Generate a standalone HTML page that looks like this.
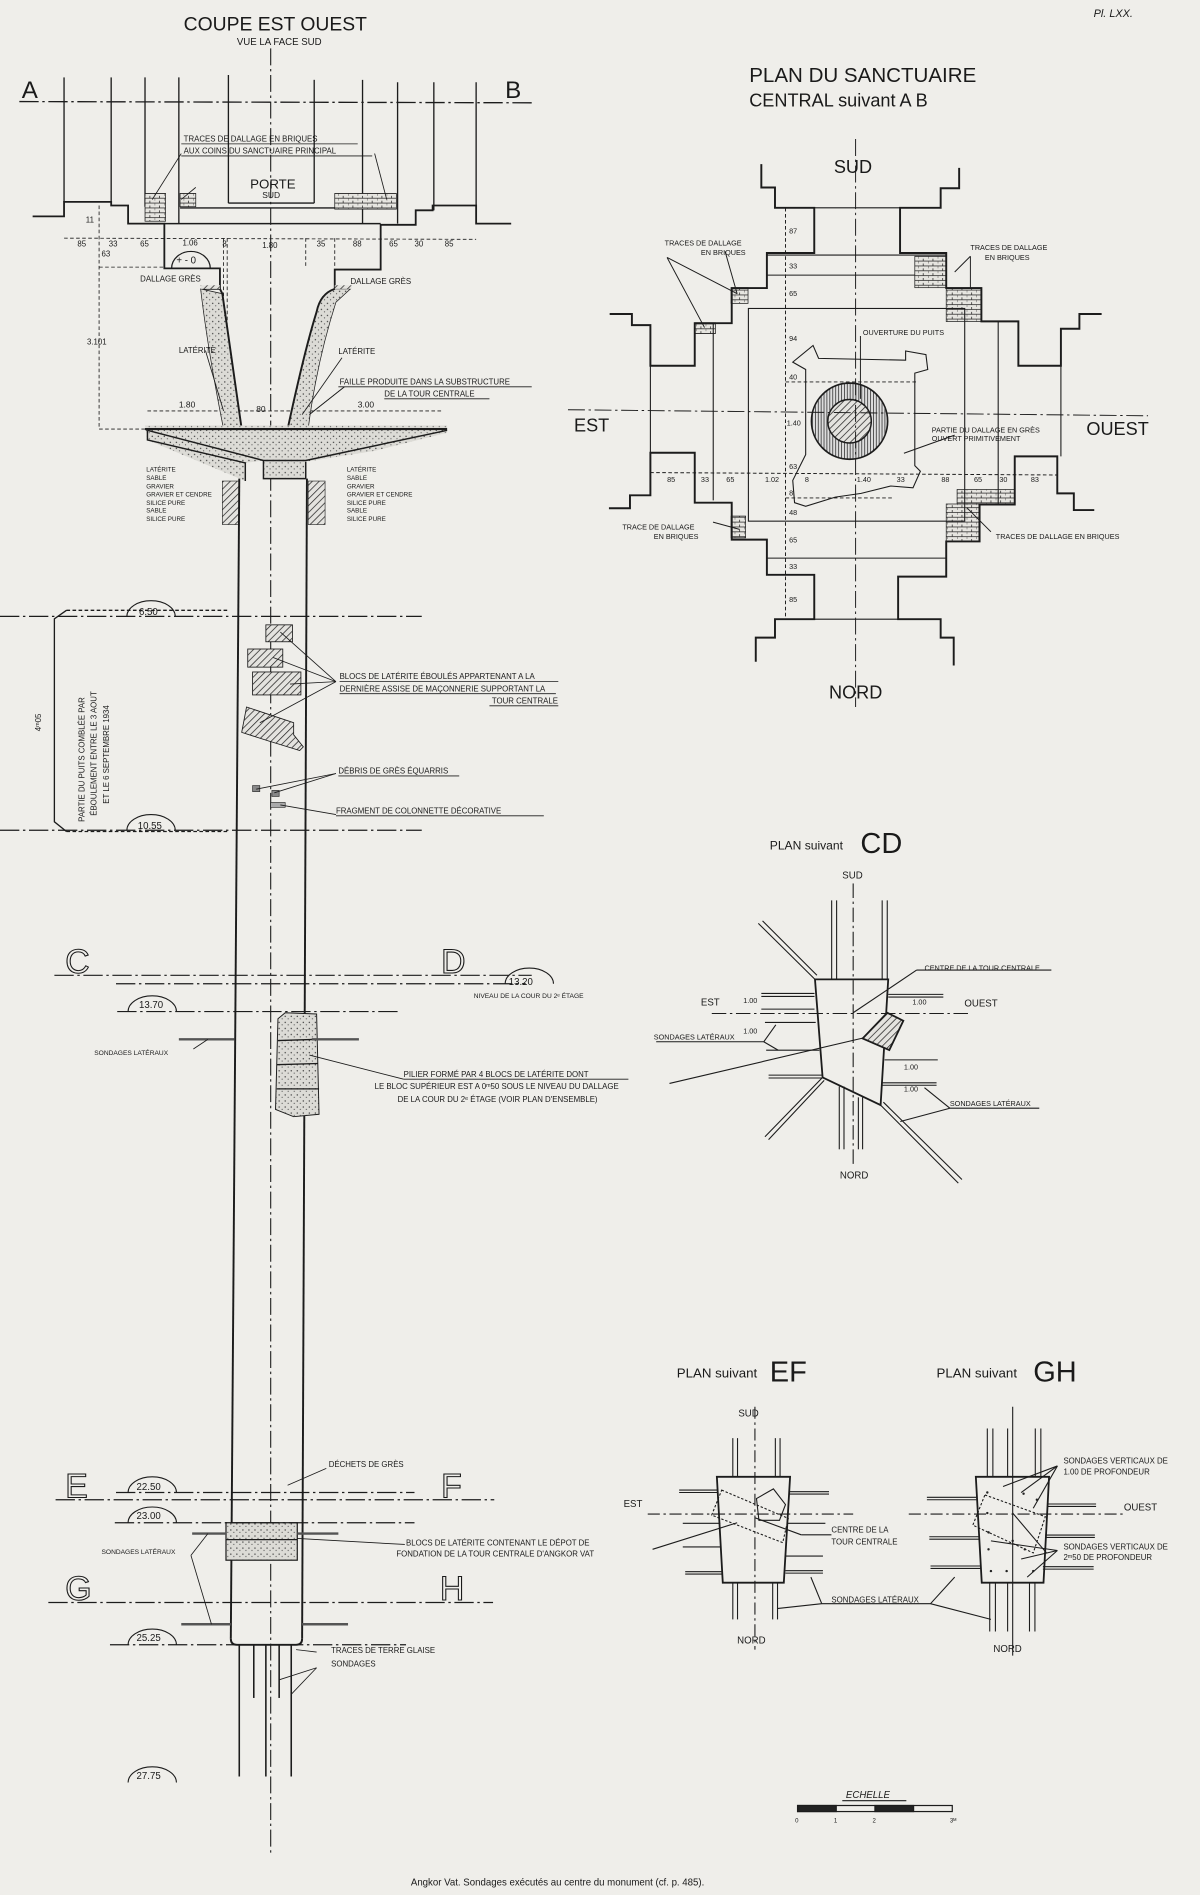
<!DOCTYPE html>
<html><head><meta charset="utf-8"><style>
html,body{margin:0;padding:0;background:#efeeea;}
svg{display:block}
text{font-family:"Liberation Sans",sans-serif;fill:#1a1a1a}
.o{fill:none;stroke:#1a1a1a;stroke-width:0.9}
</style></head><body>
<svg width="1200" height="1895" viewBox="0 0 993 1568" xmlns="http://www.w3.org/2000/svg">
<defs>
<pattern id="h" width="4" height="4" patternUnits="userSpaceOnUse" patternTransform="rotate(45)"><rect width="4" height="4" fill="#e4e3df"/><line x1="0" y1="0" x2="0" y2="4" stroke="#222" stroke-width="1.2"/></pattern>
<pattern id="v" width="2.4" height="4" patternUnits="userSpaceOnUse"><rect width="2.4" height="4" fill="#ddd"/><line x1="0" y1="0" x2="0" y2="4" stroke="#111" stroke-width="1.1"/></pattern>
<pattern id="s" width="5" height="5" patternUnits="userSpaceOnUse"><rect width="5" height="5" fill="#dcdbd6"/><circle cx="1" cy="1" r="0.6" fill="#444"/><circle cx="3.5" cy="3" r="0.5" fill="#555"/></pattern>
<pattern id="b" width="8" height="4" patternUnits="userSpaceOnUse"><rect width="8" height="4" fill="#e6e5e0"/><path d="M0,0H8M0,4H8M0,0V2M4,2V4" stroke="#222" stroke-width="0.6" fill="none"/></pattern>
</defs>
<rect width="993" height="1568" fill="#efeeea"/>
<g stroke="#1c1c1c" fill="none" stroke-width="1.1">
<!-- centre line -->
<line x1="224" y1="40" x2="224" y2="1535" stroke-dasharray="14,3,2,3" stroke-width="0.9"/>
<!-- A-B line -->
<line x1="16" y1="84" x2="440" y2="85" stroke-dasharray="16,3,2,3"/>
<!-- top verticals -->
<line x1="53" y1="64" x2="53" y2="167"/><line x1="92" y1="64" x2="92" y2="167"/><line x1="120" y1="64" x2="120" y2="171"/>
<line x1="148" y1="64" x2="148" y2="185"/><line x1="189" y1="62" x2="189" y2="168"/><line x1="260" y1="66" x2="260" y2="168"/>
<line x1="300" y1="66" x2="300" y2="185"/><line x1="329" y1="68" x2="329" y2="185"/><line x1="359" y1="68" x2="359" y2="174"/><line x1="394" y1="68" x2="394" y2="170"/>
<line x1="189" y1="168" x2="260" y2="168"/>
<line x1="149" y1="172" x2="328" y2="172"/>
<!-- stepped profile -->
<polyline points="27,179 53,179 53,167 92,167 92,170 106,170 106,185 136,185 136,222 182,222 182,239 166,239" stroke-width="1.5"/>
<polyline points="290,239 277,239 277,223 315,223 315,186 344,186 344,174 358,174 358,170 394,170 394,185 423,185" stroke-width="1.5"/>
<line x1="136" y1="185" x2="315" y2="185" stroke-width="1.3"/>
<rect x="120" y="160" width="17" height="23" fill="url(#b)" stroke-width="0.6"/>
<rect x="149" y="160" width="13" height="11" fill="url(#b)" stroke-width="0.6"/>
<rect x="277" y="160" width="51" height="13" fill="url(#b)" stroke-width="0.6"/>
<!-- dims -->
<g stroke-dasharray="3,2" stroke-width="0.7">
<line x1="53" y1="197" x2="394" y2="198"/>
<line x1="82" y1="170" x2="82" y2="355"/><line x1="82" y1="355" x2="122" y2="355"/><line x1="82" y1="221" x2="136" y2="221"/>
<line x1="185" y1="197" x2="185" y2="355"/><line x1="188" y1="197" x2="188" y2="355"/>
<line x1="253" y1="197" x2="253" y2="222"/><line x1="277" y1="197" x2="277" y2="222"/>
<line x1="122" y1="340" x2="366" y2="340"/>
</g>
<path d="M142,222 a16,14 0 0 1 32,0" stroke-width="1"/>
<!-- funnel walls -->
<path d="M166,239 Q172,290 185,355 L200,355 L184,243 Z" fill="url(#s)" stroke-width="0.6"/>
<path d="M182,239 L184,243 L200,355" stroke-width="1.6"/>
<path d="M290,239 L277,239 Q265,243 262,258 Q252,290 238,355 L255,355 Q262,300 278,250 Z" fill="url(#s)" stroke-width="0.6"/>
<path d="M277,239 Q265,243 262,258 Q252,290 238,355" stroke-width="1.6"/>
<rect x="166" y="236" width="16" height="3" fill="url(#h)" stroke="none"/><rect x="277" y="236" width="14" height="3" fill="url(#h)" stroke="none"/>
<!-- platform -->
<path d="M120,352 L370,352 L370,358 L310,373 L253,382 L253,396 L218,396 L218,381 L203,383 L203,398 L122,364 Z" fill="url(#s)" stroke="none"/>
<line x1="120" y1="355" x2="370" y2="355" stroke-width="1.8"/>
<path d="M122,356 L122,364 L203,383 L203,398" stroke-width="1.2"/>
<path d="M122,356 L218,381 L253,381 L370,356" stroke-width="1.2"/>
<path d="M218,381 L218,396 L253,396 L253,382" stroke-width="1.2"/>
<!-- layers -->
<rect x="184" y="398" width="14" height="36" fill="url(#h)" stroke-width="0.5"/>
<rect x="255" y="398" width="14" height="36" fill="url(#h)" stroke-width="0.5"/>
<!-- shaft -->
<line x1="198" y1="396" x2="191" y2="1356" stroke-width="1.6"/>
<line x1="254" y1="396" x2="250" y2="1356" stroke-width="1.6"/>
<path d="M191,1356 Q191,1361 196,1361 L245,1361 Q250,1361 250,1356" stroke-width="1.6"/>
<!-- blocks -->
<rect x="220" y="517" width="22" height="14" fill="url(#h)" stroke-width="0.7"/>
<rect x="205" y="537" width="29" height="15" fill="url(#h)" stroke-width="0.7"/>
<rect x="209" y="556" width="40" height="19" fill="url(#h)" stroke-width="0.7"/>
<path d="M204,585 L243,598 L243,608 L251,618 L248,621 L222,613 L200,606 Z" fill="url(#h)" stroke-width="0.7"/>
<rect x="209" y="650" width="6" height="5" fill="#888" stroke-width="0.5"/><rect x="225" y="654" width="6" height="5" fill="#888" stroke-width="0.5"/><rect x="224" y="664" width="12" height="4" fill="#aaa" stroke-width="0.5"/>
<!-- pillar -->
<path d="M230,843 L236,838 L262,839 L264,922 L243,924 L228,918 Z" fill="url(#s)" stroke-width="0.8"/>
<line x1="230" y1="861" x2="263" y2="860"/><line x1="229" y1="881" x2="263" y2="880"/><line x1="229" y1="901" x2="264" y2="901"/>
<!-- lower block -->
<rect x="187" y="1260" width="59" height="31" fill="url(#s)" stroke-width="1"/>
<line x1="187" y1="1274" x2="246" y2="1274"/>
<!-- sondages bottom -->
<g stroke-width="1.3"><line x1="198" y1="1361" x2="198" y2="1470"/><line x1="210" y1="1361" x2="210" y2="1405"/><line x1="220" y1="1361" x2="220" y2="1470"/><line x1="231" y1="1361" x2="231" y2="1405"/><line x1="241" y1="1361" x2="241" y2="1470"/></g>
<!-- level lines -->
<g stroke-dasharray="16,3,2,3" stroke-width="1">
<line x1="0" y1="510" x2="349" y2="510"/><line x1="0" y1="687" x2="349" y2="687"/>
<line x1="45" y1="807" x2="440" y2="807"/><line x1="96" y1="814" x2="435" y2="814"/><line x1="97" y1="837" x2="331" y2="837"/>
<line x1="46" y1="1241" x2="409" y2="1241"/><line x1="96" y1="1235" x2="343" y2="1235"/><line x1="95" y1="1260" x2="343" y2="1260"/>
<line x1="40" y1="1326" x2="408" y2="1326"/><line x1="91" y1="1361" x2="336" y2="1361"/>
</g>
<g stroke-width="2" stroke="#555"><line x1="148" y1="860" x2="194" y2="860"/><line x1="258" y1="860" x2="297" y2="860"/>
<line x1="159" y1="1269" x2="187" y2="1269"/><line x1="246" y1="1269" x2="280" y2="1269"/>
<line x1="150" y1="1344" x2="191" y2="1344"/><line x1="250" y1="1344" x2="288" y2="1344"/></g>
<!-- bracket -->
<path d="M55,505 L45,512 L45,680 L55,688"/>
<line x1="55" y1="505" x2="190" y2="505" stroke-dasharray="3,2"/>
<line x1="55" y1="688" x2="190" y2="688" stroke-dasharray="3,2"/>
<g stroke-width="0.9">
<path d="M105,510 a20,13 0 0 1 40,0"/><path d="M105,687 a20,13 0 0 1 40,0"/>
<path d="M106,837 a20,13 0 0 1 40,0"/><path d="M418,814 a20,13 0 0 1 40,0"/>
<path d="M106,1235 a20,13 0 0 1 40,0"/><path d="M106,1260 a20,13 0 0 1 40,0"/>
<path d="M106,1361 a20,13 0 0 1 40,0"/><path d="M106,1475 a20,13 0 0 1 40,0"/>
</g>
<!-- leaders -->
<g stroke-width="0.7">
<line x1="232" y1="523" x2="278" y2="564"/><line x1="226" y1="544" x2="278" y2="564"/><line x1="240" y1="566" x2="278" y2="564"/><line x1="215" y1="598" x2="278" y2="564"/>
<line x1="212" y1="653" x2="278" y2="640"/><line x1="227" y1="656" x2="278" y2="640"/><line x1="232" y1="666" x2="278" y2="674"/>
<line x1="256" y1="873" x2="334" y2="893"/><line x1="334" y1="893" x2="520" y2="893"/>
<line x1="246" y1="1273" x2="335" y2="1278"/>
<line x1="238" y1="1229" x2="270" y2="1215"/>
<line x1="245" y1="1365" x2="262" y2="1367"/><line x1="231" y1="1390" x2="262" y2="1380"/><line x1="241" y1="1402" x2="262" y2="1380"/>
<line x1="160" y1="868" x2="172" y2="860"/>
<line x1="158" y1="1287" x2="175" y2="1344"/><line x1="158" y1="1287" x2="172" y2="1269"/>
<line x1="256" y1="343" x2="285" y2="320"/><line x1="256" y1="343" x2="285" y2="320"/>
<line x1="170" y1="290" x2="185" y2="340"/><line x1="250" y1="343" x2="283" y2="296"/>
<line x1="162" y1="155" x2="150" y2="165"/><line x1="150" y1="127" x2="126" y2="165"/><line x1="310" y1="127" x2="320" y2="165"/>
</g>
<g stroke-width="0.7"><line x1="150" y1="119" x2="296" y2="119"/><line x1="150" y1="129" x2="308" y2="129"/><line x1="280" y1="320" x2="440" y2="320"/><line x1="318" y1="330" x2="405" y2="330"/>
<line x1="281" y1="564" x2="462" y2="564"/><line x1="281" y1="574" x2="460" y2="574"/><line x1="405" y1="584" x2="462" y2="584"/><line x1="280" y1="642" x2="380" y2="642"/><line x1="278" y1="675" x2="450" y2="675"/></g>
</g>
<!-- Sanctuary plan -->
<g stroke="#1c1c1c" fill="none" stroke-width="1.6">
<rect x="757" y="212" width="26" height="26" fill="url(#b)" stroke-width="0.6"/>
<rect x="783" y="238" width="29" height="28" fill="url(#b)" stroke-width="0.6"/>
<rect x="792" y="405" width="48" height="12" fill="url(#b)" stroke-width="0.6"/>
<rect x="783" y="417" width="27" height="31" fill="url(#b)" stroke-width="0.6"/>
<rect x="575" y="267" width="17" height="9" fill="url(#b)" stroke-width="0.6"/>
<rect x="605" y="238" width="14" height="13" fill="url(#b)" stroke-width="0.6"/>
<rect x="605" y="427" width="12" height="18" fill="url(#b)" stroke-width="0.6"/>
<polyline points="504.5,259.8 522.9,259.8 522.9,269 538.2,269 538.2,302.6 574.9,302.6 574.9,267.4 605.5,267.4 605.5,238.3 634.6,238.3 634.6,209.3 673.8,209.3 673.8,171.9 641.3,171.9 641.3,155.1 630,155.1 630,135.8"/>
<polyline points="793.7,138.9 793.7,155.7 778.4,155.7 778.4,171.9 744.8,171.9 744.8,209.3 783,209.3 783,238.3 812.1,238.3 812.1,265.9 842.7,265.9 842.7,302.6 877.9,302.6 877.9,272 893.2,272 893.2,259.8 911.6,259.8"/>
<polyline points="503.9,420.5 521.3,420.5 521.3,409.8 538.2,409.8 538.2,374.6 574.9,374.6 574.9,415.9 605.5,415.9 605.5,446.5 634.6,446.5 634.6,475.6 673.8,475.6 673.8,512.3 641.3,512.3 641.3,527.6 625.4,527.6 625.4,547.5"/>
<polyline points="905.5,422 888.6,422 888.6,408.2 874.9,408.2 874.9,377.6 839.7,377.6 839.7,417.4 810.6,417.4 810.6,448 783,448 783,477.1 743.2,477.1 743.2,512.3 778.4,512.3 778.4,527.6 789.2,527.6 789.2,550.6"/>
<g stroke-width="0.9">
<line x1="673.8" y1="171.9" x2="744.8" y2="171.9"/><line x1="673.8" y1="512.3" x2="743.2" y2="512.3"/>
<line x1="538.2" y1="302.6" x2="538.2" y2="374.6"/><line x1="877.9" y1="302.6" x2="877.9" y2="377.6"/>
<line x1="634.6" y1="211" x2="783" y2="211"/><line x1="634.6" y1="227.6" x2="757" y2="227.6"/><line x1="634.6" y1="461.8" x2="783" y2="461.8"/>
<line x1="590.2" y1="267" x2="590.2" y2="414"/><line x1="826" y1="266" x2="826" y2="417"/>
<rect x="619.3" y="255.2" width="179" height="176"/>
<path d="M656,299.6 L672.8,285.8 L677.4,296.5 L749.4,298 L749.4,290.4 L766.2,293.4 L767.7,305.7 L757,308.7 L757,385.3 L761.6,389.9 L755.5,403.6 L737.1,402.1 L712.6,408.2 L691.2,411.3 L666.7,418.9 L657.5,415.9 L656,397.5 L666.7,376.1 L666.7,305.7 Z"/>
</g>
<circle cx="703" cy="348.5" r="31.5" fill="url(#v)" stroke-width="1.4"/>
<circle cx="703" cy="348.5" r="18" fill="url(#h)" stroke-width="1.2"/>
</g>
<g stroke="#1c1c1c" stroke-width="0.8" fill="none">
<line x1="470" y1="339" x2="950" y2="344" stroke-dasharray="14,3,2,3"/><line x1="708" y1="115" x2="708" y2="585" stroke-dasharray="14,3,2,3"/>
<line x1="650" y1="172" x2="650" y2="512" stroke-dasharray="3,2"/>
<line x1="538" y1="391" x2="875" y2="393" stroke-dasharray="3,2"/>
<line x1="650" y1="316" x2="760" y2="316" stroke-dasharray="3,2"/>
<line x1="650" y1="412" x2="740" y2="412" stroke-dasharray="3,2"/>
<line x1="552" y1="213" x2="610" y2="243"/><line x1="600" y1="208" x2="610" y2="243"/><line x1="552" y1="213" x2="583" y2="271"/>
<line x1="803" y1="212" x2="790" y2="225"/><line x1="803" y1="212" x2="803" y2="238"/>
<line x1="590" y1="432" x2="612" y2="438"/><line x1="820" y1="440" x2="800" y2="420"/>
<line x1="712" y1="278" x2="712" y2="330"/><line x1="790" y1="360" x2="748" y2="375"/>
</g>
<!-- Plan CD -->
<g stroke="#1c1c1c" fill="none">
<polygon points="674.4,810.4 735,810.4 728.7,914.4 680.7,891.5" stroke-width="1.5"/>
<polygon points="713.8,859.3 734.2,838 747.5,844.6 735.9,868.9" fill="url(#h)" stroke-width="1.5"/>
<g stroke-width="0.9">
<line x1="706" y1="731" x2="706" y2="965" stroke-dasharray="12,3,2,3"/>
<line x1="589" y1="838.6" x2="801" y2="838.6" stroke-dasharray="12,3,2,3"/>
<line x1="688.2" y1="745" x2="688.2" y2="810"/><line x1="692.3" y1="745" x2="692.3" y2="810"/>
<line x1="730" y1="745" x2="730" y2="810"/><line x1="734.2" y1="745" x2="734.2" y2="810"/>
<line x1="694.5" y1="899" x2="694.5" y2="951"/><line x1="698.4" y1="899" x2="698.4" y2="951"/>
<line x1="710.3" y1="908" x2="710.3" y2="951"/><line x1="713.8" y1="908" x2="713.8" y2="951"/>
<line x1="630" y1="822" x2="674" y2="822"/><line x1="630" y1="824.5" x2="674" y2="824.5"/>
<line x1="630" y1="835" x2="674" y2="835"/>
<line x1="633" y1="846" x2="675" y2="846"/><line x1="634" y1="869" x2="678" y2="869"/><line x1="636" y1="889.6" x2="680" y2="889.6"/><line x1="636" y1="892" x2="680" y2="892"/>
<line x1="735" y1="822.8" x2="780.6" y2="822.8"/><line x1="735" y1="825" x2="780.6" y2="825"/>
<line x1="732" y1="877" x2="776" y2="877"/><line x1="730" y1="896" x2="775" y2="896"/><line x1="730" y1="898" x2="775" y2="898"/>
<line x1="627.5" y1="764" x2="674.4" y2="810.4"/><line x1="631" y1="762" x2="676" y2="807"/>
<line x1="633" y1="940.6" x2="680.7" y2="891.5"/><line x1="636" y1="943" x2="682" y2="894"/>
<line x1="728.7" y1="914.4" x2="793" y2="979"/><line x1="731" y1="912" x2="796" y2="976"/>
<line x1="706" y1="838" x2="758.5" y2="802.7"/><line x1="758.5" y1="802.7" x2="870" y2="802.7"/>
<line x1="554" y1="896.5" x2="713.8" y2="859"/>
<line x1="543" y1="862" x2="632" y2="862"/><line x1="632" y1="862" x2="642" y2="848"/><line x1="632" y1="862" x2="644" y2="869"/>
<line x1="786" y1="917" x2="860" y2="917"/><line x1="786" y1="917" x2="765" y2="900"/><line x1="786" y1="917" x2="745" y2="928"/>
</g></g>
<!-- Plan EF -->
<g stroke="#1c1c1c" fill="none">
<polygon points="593.2,1222 653.8,1222 648.6,1309.6 598.1,1309.6" stroke-width="1.5"/>
<g stroke-width="0.9">
<polygon points="597.2,1233 652.3,1256.4 647.7,1276.5 588.9,1253.7" stroke-dasharray="2,1.5"/>
<path d="M626,1240 L640,1232 L650,1245 L645,1258 L628,1258 Z"/>
<line x1="624.7" y1="1164" x2="624.7" y2="1365" stroke-dasharray="10,3,2,3"/>
<line x1="536" y1="1252.8" x2="706" y2="1252.8" stroke-dasharray="10,3,2,3"/>
<line x1="606.4" y1="1190" x2="606.4" y2="1222"/><line x1="610.3" y1="1190" x2="610.3" y2="1222"/><line x1="641.6" y1="1190" x2="641.6" y2="1222"/><line x1="645.5" y1="1190" x2="645.5" y2="1222"/>
<line x1="606.4" y1="1310" x2="606.4" y2="1340"/><line x1="610.3" y1="1310" x2="610.3" y2="1340"/><line x1="639.4" y1="1310" x2="639.4" y2="1340"/><line x1="643.4" y1="1310" x2="643.4" y2="1340"/>
<line x1="562" y1="1233" x2="594" y2="1233"/><line x1="562" y1="1235" x2="594" y2="1235"/>
<line x1="565" y1="1260.5" x2="596" y2="1260.5"/><line x1="565" y1="1280" x2="597" y2="1280"/><line x1="567" y1="1300.5" x2="598" y2="1300.5"/><line x1="567" y1="1302.5" x2="598" y2="1302.5"/>
<line x1="653" y1="1234.3" x2="686" y2="1234.3"/><line x1="653" y1="1236.3" x2="686" y2="1236.3"/>
<line x1="652" y1="1260.5" x2="683" y2="1260.5"/><line x1="650" y1="1287.6" x2="681" y2="1287.6"/><line x1="650" y1="1299.7" x2="681" y2="1299.7"/><line x1="650" y1="1301.7" x2="681" y2="1301.7"/>
<line x1="625" y1="1256" x2="663" y2="1270"/><line x1="663" y1="1270" x2="688" y2="1270"/>
<line x1="540" y1="1282" x2="610" y2="1260"/>
<line x1="643" y1="1331" x2="680" y2="1327"/><line x1="680" y1="1327" x2="770" y2="1327"/><line x1="770" y1="1327" x2="790" y2="1305"/><line x1="680" y1="1327" x2="671" y2="1305"/>
</g></g>
<!-- Plan GH -->
<g stroke="#1c1c1c" fill="none">
<polygon points="807.5,1222 868.1,1222 863.5,1309.6 812.4,1309.6" stroke-width="1.5"/>
<g stroke-width="0.9">
<polygon points="815,1237 865,1255 855,1285 805,1262" stroke-dasharray="2,1.5"/>
<line x1="838" y1="1164" x2="838" y2="1370"/>
<line x1="752" y1="1252.8" x2="932" y2="1252.8" stroke-dasharray="10,3,2,3"/>
<line x1="817" y1="1182" x2="817" y2="1222"/><line x1="821.6" y1="1182" x2="821.6" y2="1222"/><line x1="833.8" y1="1182" x2="833.8" y2="1222"/>
<line x1="856.7" y1="1182" x2="856.7" y2="1222"/><line x1="861.3" y1="1182" x2="861.3" y2="1222"/>
<line x1="819" y1="1310" x2="819" y2="1350"/><line x1="823.7" y1="1310" x2="823.7" y2="1350"/><line x1="833.8" y1="1310" x2="833.8" y2="1350"/>
<line x1="851.9" y1="1310" x2="851.9" y2="1350"/><line x1="856.4" y1="1310" x2="856.4" y2="1350"/>
<line x1="767" y1="1239" x2="808" y2="1239"/><line x1="767" y1="1241" x2="808" y2="1241"/>
<line x1="769" y1="1271.6" x2="810" y2="1271.6"/><line x1="769" y1="1273.6" x2="810" y2="1273.6"/>
<line x1="770" y1="1295.8" x2="812" y2="1295.8"/><line x1="770" y1="1297.8" x2="812" y2="1297.8"/>
<line x1="866.5" y1="1244.5" x2="907" y2="1244.5"/><line x1="866.5" y1="1246.5" x2="907" y2="1246.5"/>
<line x1="865" y1="1270.2" x2="906" y2="1270.2"/><line x1="865" y1="1272.2" x2="906" y2="1272.2"/>
<line x1="863" y1="1296.4" x2="905" y2="1296.4"/><line x1="863" y1="1298.4" x2="905" y2="1298.4"/>
<line x1="875" y1="1213" x2="830" y2="1230"/><line x1="875" y1="1213" x2="845" y2="1235"/><line x1="875" y1="1213" x2="855" y2="1248"/>
<line x1="875" y1="1283" x2="820" y2="1275"/><line x1="875" y1="1283" x2="845" y2="1290"/><line x1="875" y1="1283" x2="850" y2="1305"/>
<line x1="838" y1="1252" x2="866" y2="1285"/><line x1="770" y1="1327" x2="820" y2="1340"/>
</g>
<g fill="#222" stroke="none"><circle cx="817" cy="1235" r="1"/><circle cx="847" cy="1236" r="1"/><circle cx="858" cy="1241" r="1"/><circle cx="817" cy="1252" r="1"/><circle cx="818" cy="1268" r="1"/><circle cx="838" cy="1275" r="1"/><circle cx="818" cy="1282" r="1"/><circle cx="848" cy="1282" r="1"/><circle cx="820" cy="1300" r="1"/><circle cx="833" cy="1300" r="1"/><circle cx="855" cy="1300" r="1"/></g>
</g>
<!-- scale -->
<g stroke="#1c1c1c" stroke-width="1" fill="none">
<rect x="660" y="1494" width="128" height="5"/><rect x="660" y="1494" width="32" height="5" fill="#222"/><rect x="724" y="1494" width="32" height="5" fill="#222"/>
<line x1="697" y1="1490" x2="750" y2="1490"/>
</g>
<!-- TEXT -->
<text x="152" y="25" font-size="16">COUPE EST OUEST</text>
<text x="196" y="37" font-size="8">VUE LA FACE SUD</text>
<text x="905" y="14" font-size="9" font-style="italic" font-family="Liberation Serif">Pl. LXX.</text>
<text x="18" y="81" font-size="20">A</text><text x="418" y="81" font-size="20">B</text>
<text x="152" y="117" font-size="6.5">TRACES DE DALLAGE EN BRIQUES</text>
<text x="152" y="127" font-size="6.5">AUX COINS DU SANCTUAIRE PRINCIPAL</text>
<text x="207" y="156" font-size="11">PORTE</text><text x="217" y="164" font-size="7">SUD</text>
<g font-size="6.5"><text x="64" y="204">85</text><text x="90" y="204">33</text><text x="116" y="204">65</text><text x="151" y="203">1.06</text><text x="184" y="204">8</text><text x="217" y="205">1.80</text><text x="262" y="204">35</text><text x="292" y="204">88</text><text x="322" y="204">65</text><text x="343" y="204">30</text><text x="368" y="204">85</text>
<text x="84" y="212">63</text><text x="71" y="184">11</text><text x="72" y="285">3.101</text></g>
<text x="146" y="218" font-size="8">+ - 0</text>
<text x="116" y="233" font-size="6.5">DALLAGE GRÈS</text><text x="290" y="235" font-size="6.5">DALLAGE GRÈS</text>
<text x="148" y="292" font-size="6.5">LATÉRITE</text><text x="280" y="293" font-size="6.5">LATÉRITE</text>
<text x="281" y="318" font-size="6.5">FAILLE PRODUITE DANS LA SUBSTRUCTURE</text>
<text x="318" y="328" font-size="6.5">DE LA TOUR CENTRALE</text>
<text x="148" y="337" font-size="7">1.80</text><text x="212" y="341" font-size="7">80</text><text x="296" y="337" font-size="7">3.00</text>
<g font-size="5.2">
<text x="121" y="390">LATÉRITE</text><text x="121" y="397">SABLE</text><text x="121" y="404">GRAVIER</text><text x="121" y="411">GRAVIER ET CENDRE</text><text x="121" y="418">SILICE PURE</text><text x="121" y="424">SABLE</text><text x="121" y="431">SILICE PURE</text>
<text x="287" y="390">LATÉRITE</text><text x="287" y="397">SABLE</text><text x="287" y="404">GRAVIER</text><text x="287" y="411">GRAVIER ET CENDRE</text><text x="287" y="418">SILICE PURE</text><text x="287" y="424">SABLE</text><text x="287" y="431">SILICE PURE</text>
</g>
<text x="115" y="509" font-size="8">6.50</text><text x="114" y="686" font-size="8">10.55</text>
<text x="34" y="605" font-size="6.5" transform="rotate(-90 34 605)">4ᵐ05</text>
<g font-size="6.5"><text transform="translate(70,680) rotate(-90)">PARTIE DU PUITS COMBLÉE PAR</text><text transform="translate(80,675) rotate(-90)">ÉBOULEMENT ENTRE LE 3 AOUT</text><text transform="translate(90,665) rotate(-90)">ET LE 6 SEPTEMBRE 1934</text></g>
<g font-size="6.5"><text x="281" y="562">BLOCS DE LATÉRITE ÉBOULÉS APPARTENANT A LA</text><text x="281" y="572">DERNIÈRE ASSISE DE MAÇONNERIE SUPPORTANT LA</text><text x="407" y="582">TOUR CENTRALE</text>
<text x="280" y="640">DÉBRIS DE GRÈS ÉQUARRIS</text><text x="278" y="673">FRAGMENT DE COLONNETTE DÉCORATIVE</text></g>
<g font-size="28" fill="none" stroke="#1a1a1a" stroke-width="0.9" style="fill:none">
<text x="54" y="805" style="fill:none">C</text><text x="365" y="805" style="fill:none">D</text>
<text x="54" y="1239" style="fill:none">E</text><text x="365" y="1239" style="fill:none">F</text>
<text x="54" y="1324" style="fill:none">G</text><text x="364" y="1324" style="fill:none">H</text></g>
<text x="421" y="815" font-size="8">13.20</text><text x="115" y="834" font-size="8">13.70</text>
<text x="392" y="826" font-size="5.5">NIVEAU DE LA COUR DU 2ᵉ ÉTAGE</text>
<text x="78" y="873" font-size="5.5">SONDAGES LATÉRAUX</text>
<g font-size="6.5"><text x="334" y="891">PILIER FORMÉ PAR 4 BLOCS DE LATÉRITE DONT</text><text x="310" y="901">LE BLOC SUPÉRIEUR EST A 0ᵐ50 SOUS LE NIVEAU DU DALLAGE</text><text x="329" y="912">DE LA COUR DU 2ᵉ ÉTAGE (VOIR PLAN D'ENSEMBLE)</text></g>
<text x="113" y="1233" font-size="8">22.50</text><text x="113" y="1257" font-size="8">23.00</text><text x="113" y="1358" font-size="8">25.25</text><text x="113" y="1472" font-size="8">27.75</text>
<text x="272" y="1214" font-size="6.5">DÉCHETS DE GRÈS</text>
<text x="84" y="1286" font-size="5.5">SONDAGES LATÉRAUX</text>
<g font-size="6.5"><text x="336" y="1279">BLOCS DE LATÉRITE CONTENANT LE DÉPOT DE</text><text x="328" y="1288">FONDATION DE LA TOUR CENTRALE D'ANGKOR VAT</text>
<text x="274" y="1368">TRACES DE TERRE GLAISE</text><text x="274" y="1379">SONDAGES</text></g>
<text x="620" y="68" font-size="17">PLAN DU SANCTUAIRE</text>
<text x="620" y="88" font-size="15">CENTRAL suivant A B</text>
<text x="690" y="143" font-size="15">SUD</text><text x="686" y="578" font-size="15">NORD</text>
<text x="475" y="357" font-size="15">EST</text><text x="899" y="360" font-size="15">OUEST</text>
<g font-size="6"><text x="550" y="203">TRACES DE DALLAGE</text><text x="580" y="211">EN BRIQUES</text>
<text x="803" y="207">TRACES DE DALLAGE</text><text x="815" y="215">EN BRIQUES</text>
<text x="714" y="277">OUVERTURE DU PUITS</text>
<text x="771" y="358">PARTIE DU DALLAGE EN GRÈS</text><text x="771" y="365">OUVERT PRIMITIVEMENT</text>
<text x="515" y="438">TRACE DE DALLAGE</text><text x="541" y="446">EN BRIQUES</text>
<text x="824" y="446">TRACES DE DALLAGE EN BRIQUES</text>
<text x="653" y="193">87</text><text x="653" y="222">33</text><text x="653" y="245">65</text><text x="653" y="282">94</text><text x="653" y="314">40</text><text x="651" y="352">1.40</text><text x="653" y="388">63</text><text x="653" y="410">8</text><text x="653" y="426">48</text><text x="653" y="449">65</text><text x="653" y="471">33</text><text x="653" y="498">85</text>
<text x="552" y="399">85</text><text x="580" y="399">33</text><text x="601" y="399">65</text><text x="633" y="399">1.02</text><text x="666" y="399">8</text><text x="709" y="399">1.40</text><text x="742" y="399">33</text><text x="779" y="399">88</text><text x="806" y="399">65</text><text x="827" y="399">30</text><text x="853" y="399">83</text></g>
<text x="637" y="703" font-size="10">PLAN suivant</text><text x="712" y="706" font-size="24">CD</text>
<text x="697" y="727" font-size="8">SUD</text><text x="695" y="975" font-size="8">NORD</text>
<text x="580" y="832" font-size="8">EST</text><text x="798" y="833" font-size="8">OUEST</text>
<g font-size="6"><text x="765" y="803">CENTRE DE LA TOUR CENTRALE</text><text x="541" y="860">SONDAGES LATÉRAUX</text><text x="786" y="915">SONDAGES LATÉRAUX</text>
<text x="615" y="830">1.00</text><text x="615" y="855">1.00</text><text x="755" y="831">1.00</text><text x="748" y="885">1.00</text><text x="748" y="903">1.00</text></g>
<text x="560" y="1140" font-size="11">PLAN suivant</text><text x="637" y="1143" font-size="24">EF</text>
<text x="775" y="1140" font-size="11">PLAN suivant</text><text x="855" y="1143" font-size="24">GH</text>
<text x="611" y="1172" font-size="8">SUD</text><text x="610" y="1360" font-size="8">NORD</text>
<text x="822" y="1367" font-size="8">NORD</text>
<text x="516" y="1247" font-size="8">EST</text><text x="930" y="1250" font-size="8">OUEST</text>
<g font-size="6.5"><text x="688" y="1268">CENTRE DE LA</text><text x="688" y="1278">TOUR CENTRALE</text>
<text x="688" y="1326">SONDAGES LATÉRAUX</text>
<text x="880" y="1211">SONDAGES VERTICAUX DE</text><text x="880" y="1220">1.00 DE PROFONDEUR</text>
<text x="880" y="1282">SONDAGES VERTICAUX DE</text><text x="880" y="1291">2ᵐ50 DE PROFONDEUR</text></g>
<text x="700" y="1488" font-size="8" font-style="italic">ECHELLE</text>
<text x="658" y="1508" font-size="5">0</text><text x="690" y="1508" font-size="5">1</text><text x="722" y="1508" font-size="5">2</text><text x="786" y="1508" font-size="5">3ᴹ</text>
<text x="340" y="1560" font-size="8" font-family="Liberation Serif">Angkor Vat. Sondages exécutés au centre du monument (cf. p. 485).</text>
</svg>
</body></html>
